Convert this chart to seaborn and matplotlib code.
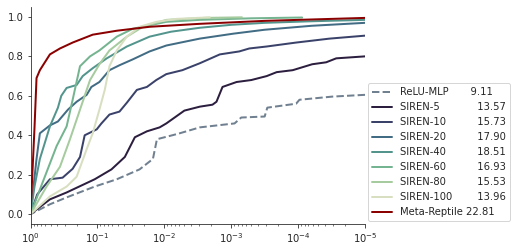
import numpy as np
import seaborn as sns
import matplotlib.pyplot as plt

# x values stored as -log10(threshold), y = fraction
relu_d = [0, 0.29, 0.54, 0.96, 1.29, 1.63, 1.83, 1.89, 2.12, 2.23, 2.53, 3.05, 3.15, 3.50, 3.54, 3.97, 4.02, 4.51, 5.0]
relu_y = [0, 0.05, 0.085, 0.14, 0.177, 0.227, 0.28, 0.38, 0.40, 0.41, 0.44, 0.46, 0.49, 0.495, 0.54, 0.56, 0.58, 0.596, 0.605]

s5_d = [0, 0.29, 0.54, 0.96, 1.21, 1.41, 1.56, 1.74, 1.93, 2.03, 2.30, 2.53, 2.72, 2.78, 2.87, 3.08, 3.30, 3.53, 3.68, 3.92, 4.21, 4.42, 4.57, 5.0]
s5_y = [0, 0.075, 0.11, 0.177, 0.227, 0.29, 0.39, 0.42, 0.44, 0.46, 0.525, 0.545, 0.555, 0.57, 0.645, 0.67, 0.68, 0.70, 0.72, 0.73, 0.76, 0.77, 0.79, 0.80]

s10_d = [0, 0.10, 0.29, 0.48, 0.63, 0.74, 0.81, 0.99, 1.06, 1.18, 1.33, 1.44, 1.59, 1.74, 1.88, 2.03, 2.27, 2.53, 2.83, 3.12, 3.27, 3.53, 3.97, 4.47, 5.0]
s10_y = [0, 0.10, 0.177, 0.185, 0.23, 0.29, 0.40, 0.43, 0.46, 0.505, 0.52, 0.565, 0.63, 0.645, 0.68, 0.71, 0.73, 0.765, 0.81, 0.825, 0.84, 0.85, 0.87, 0.89, 0.905]

s20_d = [0, 0.09, 0.14, 0.29, 0.41, 0.56, 0.69, 0.84, 0.91, 1.03, 1.18, 1.33, 1.53, 1.78, 2.03, 2.53, 3.03, 3.50, 4.20, 5.0]
s20_y = [0, 0.28, 0.41, 0.45, 0.47, 0.53, 0.57, 0.605, 0.645, 0.67, 0.73, 0.755, 0.785, 0.825, 0.855, 0.89, 0.915, 0.935, 0.955, 0.97]

s40_d = [0, 0.06, 0.14, 0.29, 0.41, 0.46, 0.54, 0.69, 0.78, 0.93, 1.14, 1.44, 1.78, 2.10, 2.53, 3.00, 3.50, 4.20, 5.0]
s40_y = [0, 0.14, 0.28, 0.445, 0.54, 0.60, 0.64, 0.655, 0.70, 0.74, 0.79, 0.85, 0.90, 0.925, 0.945, 0.96, 0.97, 0.978, 0.985]

s60_d = [0, 0.18, 0.39, 0.54, 0.63, 0.74, 0.89, 1.03, 1.29, 1.53, 2.03, 2.53, 3.30, 4.06]
s60_y = [0, 0.16, 0.345, 0.445, 0.58, 0.75, 0.80, 0.83, 0.90, 0.94, 0.975, 0.985, 0.993, 0.997]

s80_d = [0, 0.24, 0.44, 0.59, 0.74, 0.89, 1.03, 1.18, 1.44, 1.68, 2.03, 2.60, 3.16]
s80_y = [0, 0.14, 0.24, 0.38, 0.53, 0.68, 0.76, 0.83, 0.90, 0.95, 0.985, 0.995, 0.998]

s100_d = [0, 0.29, 0.54, 0.69, 0.84, 0.93, 1.03, 1.11, 1.18, 1.29, 1.44, 1.63, 1.88, 2.18, 2.68]
s100_y = [0, 0.09, 0.14, 0.19, 0.33, 0.41, 0.53, 0.63, 0.75, 0.83, 0.90, 0.95, 0.975, 0.99, 0.998]

meta_d = [0, 0.06, 0.09, 0.14, 0.29, 0.44, 0.63, 0.93, 1.29, 1.78, 2.53, 3.50, 5.0]
meta_y = [0, 0.44, 0.69, 0.73, 0.81, 0.84, 0.87, 0.91, 0.93, 0.95, 0.965, 0.98, 0.995]

names = ["ReLU-MLP", "SIREN-5", "SIREN-10", "SIREN-20", "SIREN-40", "SIREN-60", "SIREN-80", "SIREN-100", "Meta-Reptile"]
psnr = [9.11, 13.57, 15.73, 17.90, 18.51, 16.93, 15.53, 13.96, 22.81]
pad = [7, 12, 10, 10, 10, 10, 10, 8, 1]

curves = [(relu_d, relu_y), (s5_d, s5_y), (s10_d, s10_y), (s20_d, s20_y), (s40_d, s40_y),
          (s60_d, s60_y), (s80_d, s80_y), (s100_d, s100_y), (meta_d, meta_y)]

sns.set_style("ticks")
siren_cols = sns.cubehelix_palette(7, start=.5, rot=-.75, reverse=True)
colors = ["slategray"] + list(siren_cols) + ["darkred"]

fig = plt.figure(figsize=(517 / 72, 252 / 72), dpi=72)
ax = fig.add_axes([0.059, 0.111, 0.647, 0.861])

for i, (d, y) in enumerate(curves):
    x = 10.0 ** (-np.array(d))
    label = names[i] + " " * pad[i] + f"{psnr[i]:.2f}"
    sns.lineplot(x=x, y=y, ax=ax, color=colors[i], linewidth=2,
                 linestyle="--" if i == 0 else "-", label=label)

ax.set_xscale("log")
ax.set_xlim(1, 1e-5)
ax.set_ylim(-0.05, 1.05)
ax.set_yticks([0, 0.2, 0.4, 0.6, 0.8, 1.0])
sns.despine(ax=ax)
ax.legend(loc="lower left", bbox_to_anchor=(1.0, 0.0), borderaxespad=0.3)

fig.savefig("out.png", dpi=72)
